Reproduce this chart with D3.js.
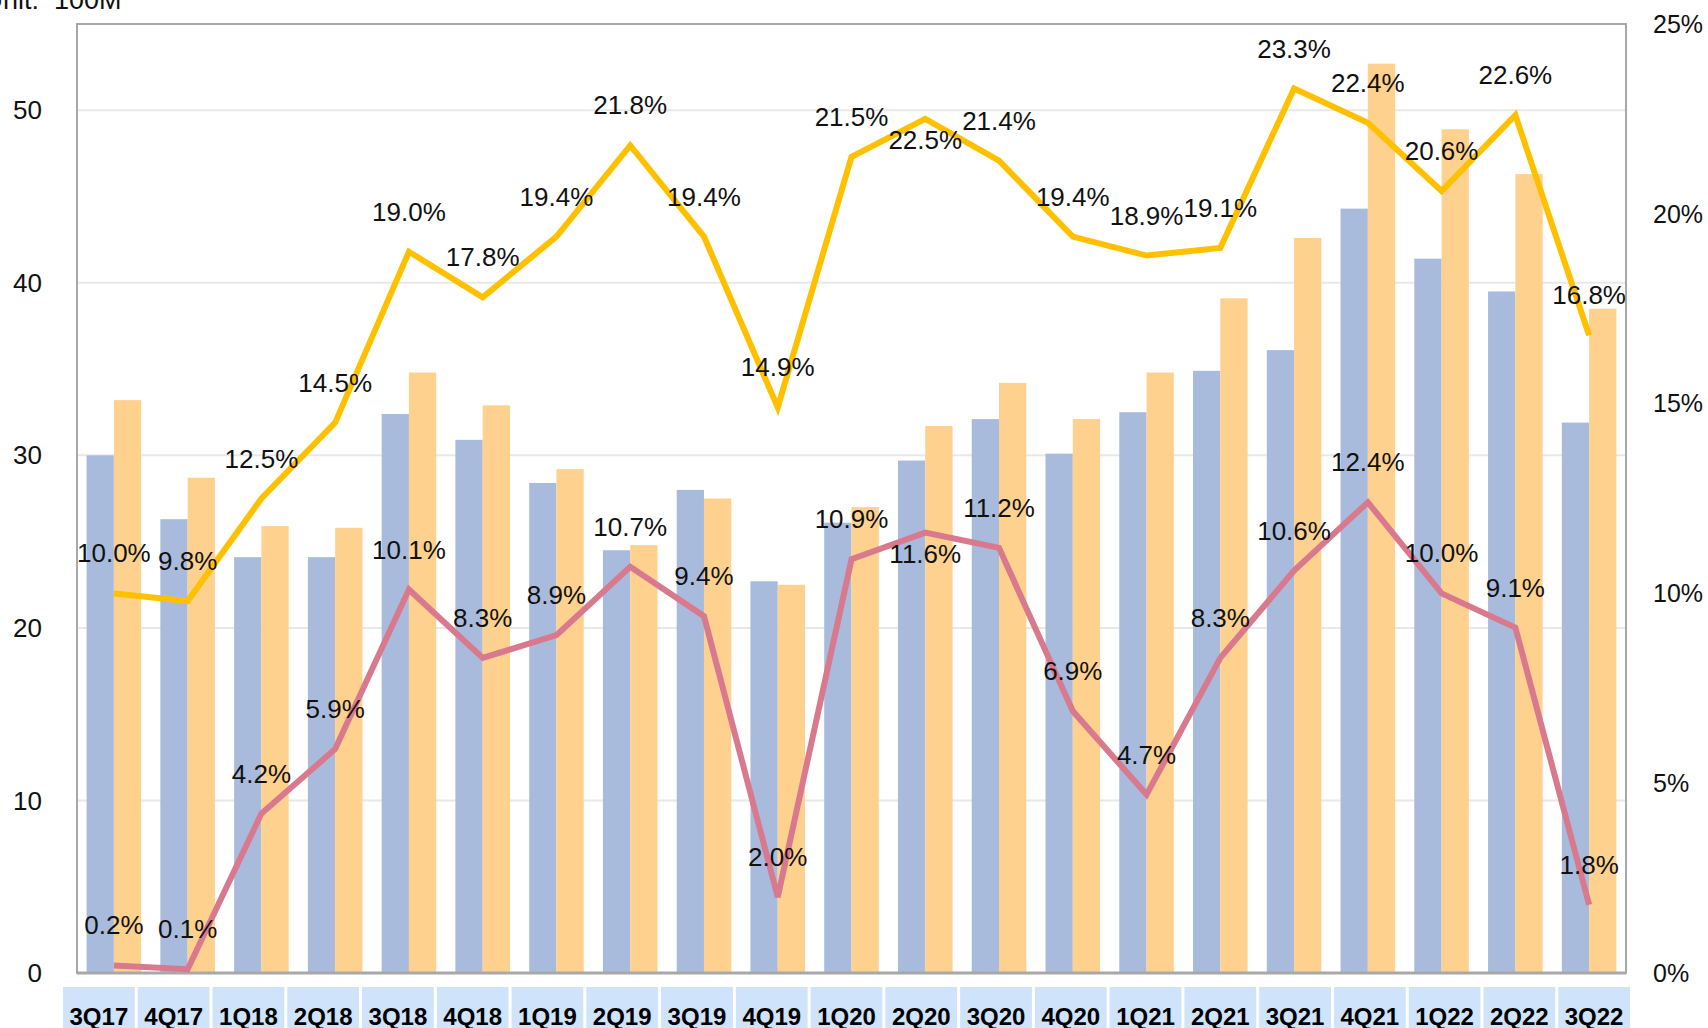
<!DOCTYPE html>
<html>
<head>
<meta charset="utf-8">
<script src="https://cdn.jsdelivr.net/npm/d3@7"></script>
<style>
  body { margin: 0; background: #fff; }
  text { font-family: "Liberation Sans", Arial, sans-serif; }
</style>
</head>
<body>
<svg width="1708" height="1028"></svg>
<script>
// chart values
const quarters = ['3Q17', '4Q17', '1Q18', '2Q18', '3Q18', '4Q18', '1Q19', '2Q19', '3Q19', '4Q19', '1Q20',
    '2Q20', '3Q20', '4Q20', '1Q21', '2Q21', '3Q21', '4Q21', '1Q22', '2Q22', '3Q22'];
const seriesA = [30.0, 26.3, 24.1, 24.1, 32.4, 30.9, 28.4, 24.5, 28.0, 22.7, 26.1,
    29.7, 32.1, 30.1, 32.5, 34.9, 36.1, 44.3, 41.4, 39.5, 31.9];
const seriesB = [33.2, 28.7, 25.9, 25.8, 34.8, 32.9, 29.2, 24.8, 27.5, 22.5, 27.0,
    31.7, 34.2, 32.1, 34.8, 39.1, 42.6, 52.7, 48.9, 46.3, 38.5];
const rateA = [10.0, 9.8, 12.5, 14.5, 19.0, 17.8, 19.4, 21.8, 19.4, 14.9, 21.5,
    22.5, 21.4, 19.4, 18.9, 19.1, 23.3, 22.4, 20.6, 22.6, 16.8];
const rateB = [0.2, 0.1, 4.2, 5.9, 10.1, 8.3, 8.9, 10.7, 9.4, 2.0, 10.9,
    11.6, 11.2, 6.9, 4.7, 8.3, 10.6, 12.4, 10.0, 9.1, 1.8];
const leftTicks = [0, 10, 20, 30, 40, 50];
const rightTicks = [0, 5, 10, 15, 20, 25];

const svg = d3.select("svg");
const width = +svg.attr("width");
const height = +svg.attr("height");

const margin = { top: 24, right: 82, bottom: 55, left: 77 };
const innerWidth = width - margin.left - margin.right;
const innerHeight = height - margin.top - margin.bottom;

const rows = quarters.map((q, i) => ({ q, a: seriesA[i], b: seriesB[i], ra: rateA[i], rb: rateB[i] }));

const xScale = d3.scaleBand()
    .domain(quarters)
    .range([0, innerWidth])
    .paddingInner(0.26)
    .paddingOuter(0.13);

const xSub = d3.scaleBand()
    .domain(['a', 'b'])
    .range([0, xScale.bandwidth()]);

const yScale = d3.scaleLinear().domain([0, 55]).range([innerHeight, 0]);
const yRight = d3.scaleLinear().domain([0, 25]).range([innerHeight, 0]);

const xMid = d => xScale(d.q) + xScale.bandwidth() / 2;

const g = svg.append('g')
    .attr('transform', `translate(${margin.left}, ${margin.top})`);

// grid
g.selectAll('.grid').data(leftTicks.filter(t => t > 0))
    .enter().append('line')
    .attr('class', 'grid')
    .attr('x1', 0).attr('x2', innerWidth)
    .attr('y1', d => yScale(d)).attr('y2', d => yScale(d))
    .attr('stroke', '#e8e8e8')
    .attr('stroke-width', 2);

// bars
const groups = g.selectAll('.grp').data(rows)
    .enter().append('g')
    .attr('transform', d => `translate(${xScale(d.q)},0)`);

groups.append('rect')
    .attr('x', xSub('a'))
    .attr('y', d => yScale(d.a))
    .attr('width', xSub.bandwidth())
    .attr('height', d => innerHeight - yScale(d.a))
    .attr('fill', '#a9bbdc');

groups.append('rect')
    .attr('x', xSub('b'))
    .attr('y', d => yScale(d.b))
    .attr('width', xSub.bandwidth())
    .attr('height', d => innerHeight - yScale(d.b))
    .attr('fill', '#fed18f');

// frame
g.append('rect')
    .attr('x', 0).attr('y', 0)
    .attr('width', innerWidth).attr('height', innerHeight)
    .attr('fill', 'none')
    .attr('stroke', '#a8a8a8')
    .attr('stroke-width', 2);
g.append('line')
    .attr('x1', 0).attr('x2', innerWidth)
    .attr('y1', innerHeight).attr('y2', innerHeight)
    .attr('stroke', '#a8a8a8')
    .attr('stroke-width', 3);

// lines
const lineA = d3.line().x(xMid).y(d => yRight(d.ra));
const lineB = d3.line().x(xMid).y(d => yRight(d.rb));

g.append('path').datum(rows)
    .attr('d', lineA)
    .attr('fill', 'none')
    .attr('stroke', '#ffc000')
    .attr('stroke-width', 6)
    .attr('stroke-linejoin', 'miter');

g.append('path').datum(rows)
    .attr('d', lineB)
    .attr('fill', 'none')
    .attr('stroke', '#d9798e')
    .attr('stroke-width', 6)
    .attr('stroke-linejoin', 'miter');

// data labels
const below = new Set(['2Q20']);
const labelY = (v, q) => below.has(q) ? yRight(v) + 30 : yRight(v) - 31;

g.selectAll('.lblA').data(rows)
    .enter().append('text')
    .attr('x', xMid)
    .attr('y', d => labelY(d.ra, d.q))
    .attr('text-anchor', 'middle')
    .attr('font-size', 26)
    .attr('fill', '#111')
    .text(d => d.ra.toFixed(1) + '%');

g.selectAll('.lblB').data(rows)
    .enter().append('text')
    .attr('x', xMid)
    .attr('y', d => labelY(d.rb, d.q))
    .attr('text-anchor', 'middle')
    .attr('font-size', 26)
    .attr('fill', '#111')
    .text(d => d.rb.toFixed(1) + '%');

// left axis labels
g.selectAll('.yl').data(leftTicks)
    .enter().append('text')
    .attr('x', -35)
    .attr('y', d => yScale(d))
    .attr('dy', '0.35em')
    .attr('text-anchor', 'end')
    .attr('font-size', 26)
    .attr('fill', '#111')
    .text(d => d);

// right axis labels
g.selectAll('.yr').data(rightTicks)
    .enter().append('text')
    .attr('x', innerWidth + 27)
    .attr('y', d => yRight(d))
    .attr('dy', '0.35em')
    .attr('text-anchor', 'start')
    .attr('font-size', 25)
    .attr('fill', '#111')
    .text(d => d + '%');

// category table under the chart
const boxScale = d3.scaleBand()
    .domain(quarters)
    .range([63, 1630])
    .paddingInner(0.04);

const cells = svg.selectAll('.cell').data(quarters)
    .enter().append('g');

cells.append('rect')
    .attr('x', d => boxScale(d))
    .attr('y', 987)
    .attr('width', boxScale.bandwidth())
    .attr('height', 60)
    .attr('fill', '#cfe3fb');

cells.append('text')
    .attr('x', d => boxScale(d) + boxScale.bandwidth() / 2)
    .attr('y', 1025)
    .attr('text-anchor', 'middle')
    .attr('font-size', 24)
    .attr('font-weight', 'bold')
    .attr('fill', '#000')
    .text(d => d);

// unit note, clipped at the top and left edges
const unit = svg.append('text')
    .attr('y', 9)
    .attr('font-size', 27)
    .attr('fill', '#111');
unit.append('tspan').attr('x', 39).attr('text-anchor', 'end').text('Unit:');
unit.append('tspan').attr('x', 54).attr('text-anchor', 'start').text('100M');
</script>
</body>
</html>
